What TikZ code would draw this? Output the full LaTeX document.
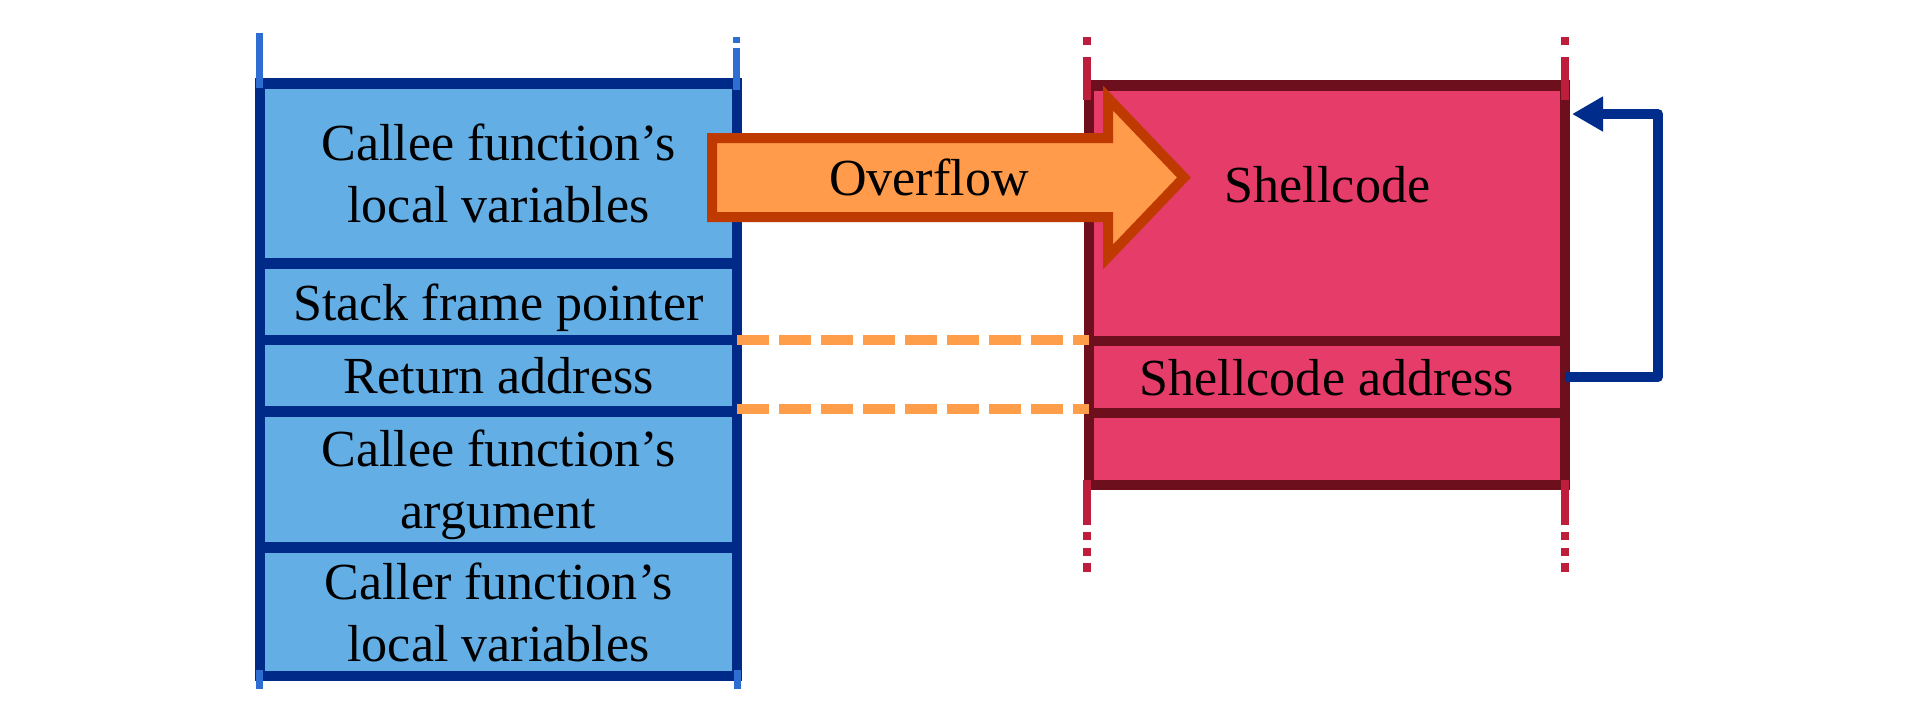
\documentclass[tikz,border=0pt]{standalone}
\usepackage{fontspec}
\setmainfont{Liberation Serif}
\usetikzlibrary{arrows.meta}
\definecolor{cellblue}{RGB}{99,174,229}
\definecolor{stackblue}{RGB}{0,42,135}
\definecolor{tickblue}{RGB}{46,110,210}
\definecolor{cellpink}{RGB}{230,60,105}
\definecolor{maroon}{RGB}{110,15,30}
\definecolor{tickred}{RGB}{190,30,60}
\definecolor{ofill}{RGB}{255,155,75}
\definecolor{oborder}{RGB}{190,58,0}
\definecolor{odash}{RGB}{255,158,74}
\definecolor{arrowblue}{RGB}{0,45,140}
\begin{document}
\begin{tikzpicture}[x=0.01cm,y=-0.01cm,
  font=\fontsize{14.8pt}{17.6pt}\selectfont,
  lcell/.style={draw=stackblue, fill=cellblue, line width=1.05mm, minimum width=4.77cm,
    inner sep=0pt, outer sep=0pt, align=center, text=black, text depth=0pt},
  pcell/.style={draw=maroon, fill=cellpink, line width=1.05mm, minimum width=4.76cm,
    inner sep=0pt, outer sep=0pt, align=center, text=black, text depth=0pt},
  bluetick/.style={draw=tickblue, line width=0.7mm},
  redtick/.style={draw=tickred, line width=0.8mm},
  overflowarrow/.style={fill=ofill, draw=oborder, line width=1mm, line join=miter},
  linkdash/.style={draw=odash, line width=1mm, dash pattern=on 0.32cm off 0.1cm},
  backarrow/.style={draw=arrowblue, line width=1mm, line join=round,
    -{Triangle[length=3.1mm,width=3.3mm]}}
]
\useasboundingbox (0,0) rectangle (1920,720);
\fill[white] (0,0) rectangle (1920,720);

% left stack
\node[lcell, minimum height=1.8cm]   (c1) at (498.5,173.5)  {Callee function’s\\local variables};
\node[lcell, minimum height=0.765cm] (c2) at (498.5,301.75) {Stack frame pointer};
\node[lcell, minimum height=0.715cm] (c3) at (498.5,375.75) {Return address};
\node[lcell, minimum height=1.36cm]  (c4) at (498.5,479.5)  {Callee function’s\\argument};
\node[lcell, minimum height=1.285cm] (c5) at (498.5,611.75) {Caller function’s\\local variables};

% right stack
\node[pcell, minimum height=2.555cm] (p1) at (1327,213.25) {};
\node[pcell, minimum height=0.72cm]  (p2) at (1327,377)    {Shellcode address};
\node[pcell, minimum height=0.72cm]  (p3) at (1327,449)    {};
\node[anchor=base] (shell) at (1327.5,202) {Shellcode};

% ticks of the left stack
\draw[bluetick] (259.5,33) -- (259.5,88);
\draw[bluetick] (736.5,37) -- (736.5,43);
\draw[bluetick] (736.5,48) -- (736.5,90);
\draw[bluetick] (259.5,670) -- (259.5,689);
\draw[bluetick] (737,670) -- (737,689);

% ticks of the right stack
\foreach \x in {1086.5,1565}{
  \draw[redtick] (\x,37) -- (\x,45);
  \draw[redtick] (\x,57) -- (\x,100);
  \draw[redtick] (\x,480) -- (\x,525);
  \draw[redtick] (\x,532) -- (\x,540);
  \draw[redtick] (\x,548) -- (\x,556);
  \draw[redtick] (\x,563) -- (\x,572);
}

% dashed links
\draw[linkdash] (c2.south east) -- (c2.south east -| p1.west);
\draw[linkdash] ([yshift=0.03cm]c3.south east) -- ([yshift=0.03cm]c3.south east -| p2.west);

% overflow arrow
\draw[overflowarrow] (712,138) -- (1108,138) -- (1108,98) -- (1184,177.5)
  -- (1108,257) -- (1108,217) -- (712,217) -- cycle;
\node[anchor=base] (ovf) at (929,195) {Overflow};

% back arrow
\coordinate (tin) at (1572,114);
\draw[backarrow] (p2.east) -- ++(93,0) |- (tin);
\end{tikzpicture}
\end{document}
